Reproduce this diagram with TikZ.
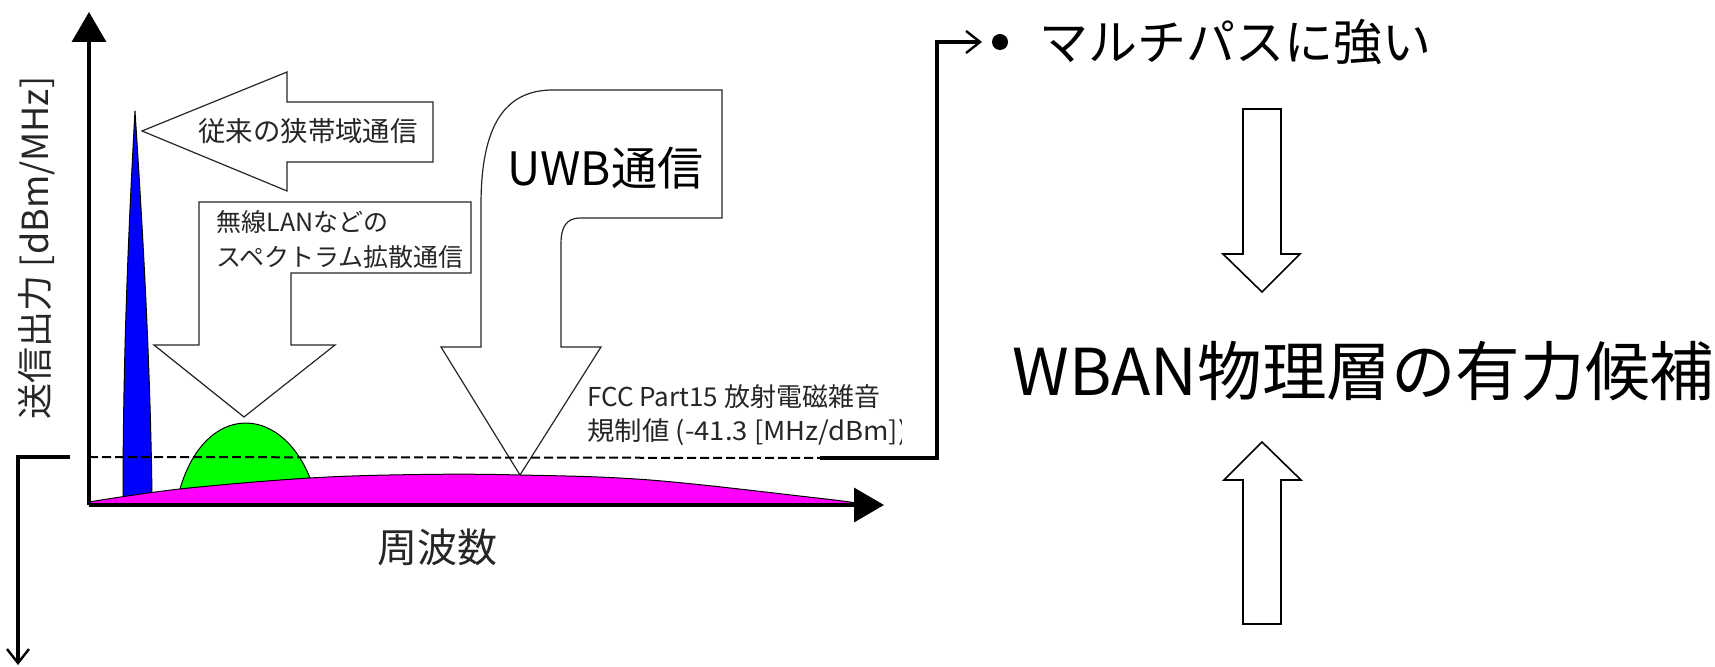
\documentclass[tikz,border=0pt]{standalone}
\usepackage{fontspec}
\setmainfont{Noto Sans CJK JP}
\usetikzlibrary{arrows.meta}
\begin{document}
\begin{tikzpicture}[x=0.5pt,y=-0.5pt,
  blockarrow/.style={draw=black!85, line width=0.6pt, fill=white, line join=miter},
  axisline/.style={line width=1.7pt, -{Triangle[length=15pt,width=17pt]}},
  conn/.style={line width=1.6pt},
  connarrow/.style={line width=1.6pt, -{Straight Barb[length=7pt,width=11pt,line width=1.2pt]}},
  limitline/.style={line width=1pt, dash pattern=on 4.5pt off 2pt},
  lbl/.style={inner sep=0pt, anchor=west, text=black!85},
  spectrum/.style={draw=black, line width=0.5pt}]
\useasboundingbox (0,0) rectangle (1715,667);

% spectra
\draw[spectrum, fill={rgb,255:red,0;green,255;blue,0}] (180,489) .. controls (205,403) and (280,403) .. (310,478) -- cycle;
\draw[spectrum, fill={rgb,255:red,0;green,0;blue,255}] (135,111) .. controls (129,220) and (123,350) .. (123,499) -- (152,495) .. controls (150,350) and (142,220) .. (135,111) -- cycle;
\draw[spectrum, fill={rgb,255:red,255;green,0;blue,255}] plot[smooth, tension=0.6] coordinates {(89,502) (180,489) (310,478) (420,474.5) (520,475) (650,480) (817,498) (856,503)} -- (856,505) -- (89,505) -- cycle;

% block arrows
\draw[blockarrow] (142,131) -- (287,72) -- (287,102) -- (433,102) -- (433,162) -- (287,162) -- (287,191) -- cycle;
\draw[blockarrow] (199,202) -- (471,202) -- (471,273) -- (291,273) -- (291,345) -- (335,345) -- (244,417) -- (154,345) -- (199,345) -- cycle;
\draw[blockarrow] (441,347) -- (481,347) -- (481,205) .. controls (481,125) and (505,90) .. (553,90) -- (722,90) -- (722,218) -- (580,218) .. controls (566,218) and (561,228) .. (561,243) -- (561,347) -- (601,347) -- (520,475) -- cycle;

% limit line
\coordinate (limL) at (89,457);
\coordinate (limR) at (820,458);
\draw[limitline] (limL) -- (limR);

% axes
\coordinate (origin) at (89,505);
\coordinate (ytip) at (89,12);
\coordinate (xtip) at (884,505);
\draw[axisline] (origin) -- (ytip);
\draw[axisline] (origin) -- (xtip);

% texts in chart
\node[lbl, font=\fontsize{13.7pt}{16pt}\selectfont] (narrow) at (198,131) {従来の狭帯域通信};
\node[lbl, font=\fontsize{12.5pt}{15pt}\selectfont] (wlan1) at (216,222) {無線LANなどの};
\node[lbl, font=\fontsize{12.5pt}{15pt}\selectfont] (wlan2) at (216,257) {スペクトラム拡散通信};
\node[lbl, font=\fontsize{23pt}{26pt}\selectfont, text=black] (uwb) at (507,168) {UWB通信};
\begin{scope}
\clip (560,375) rectangle (901,452);
\node[lbl, font=\fontsize{13pt}{15pt}\selectfont] (fcc1) at (587,397) {FCC Part15 放射電磁雑音};
\node[lbl, font=\fontsize{13pt}{15pt}\selectfont] (fcc2) at (587,432) {\scalebox{1.055}[1]{規制値 (-41.3 [MHz/dBm])}};
\end{scope}
\node[inner sep=0pt, font=\fontsize{20pt}{22pt}\selectfont, text=black!85] (freq) at (437,547) {周波数};
\node[inner sep=0pt, rotate=90, font=\fontsize{18pt}{20pt}\selectfont, text=black!85] (ylabel) at (37,248) {送信出力 [dBm/MHz]};

% right side
\node[circle, fill=black, inner sep=0pt, minimum size=8pt] (bullet) at (1000,42) {};
\node[lbl, font=\fontsize{24.5pt}{28pt}\selectfont, text=black] (multi) at (1039,42) {マルチパスに強い};
\node[lbl, font=\fontsize{32.3pt}{36pt}\selectfont, text=black] (wban) at (1012,371) {WBAN物理層の有力候補};

\draw[blockarrow, draw=black, line width=0.8pt] (1243,109) -- (1281,109) -- (1281,254) -- (1300,254) -- (1262,292) -- (1223,254) -- (1243,254) -- cycle;
\draw[blockarrow, draw=black, line width=0.8pt] (1243,624) -- (1281,624) -- (1281,480) -- (1301,480) -- (1262,442) -- (1224,480) -- (1243,480) -- cycle;

% connectors
\coordinate (rc1) at (937,458);
\coordinate (rc2) at (982,42);
\draw[connarrow] (limR) -- (rc1) |- (rc2);
\coordinate (lc0) at (70,457);
\coordinate (lc1) at (18,457);
\coordinate (lc2) at (18,665);
\draw[connarrow] (lc0) -- (lc1) -- (lc2);
\end{tikzpicture}
\end{document}
